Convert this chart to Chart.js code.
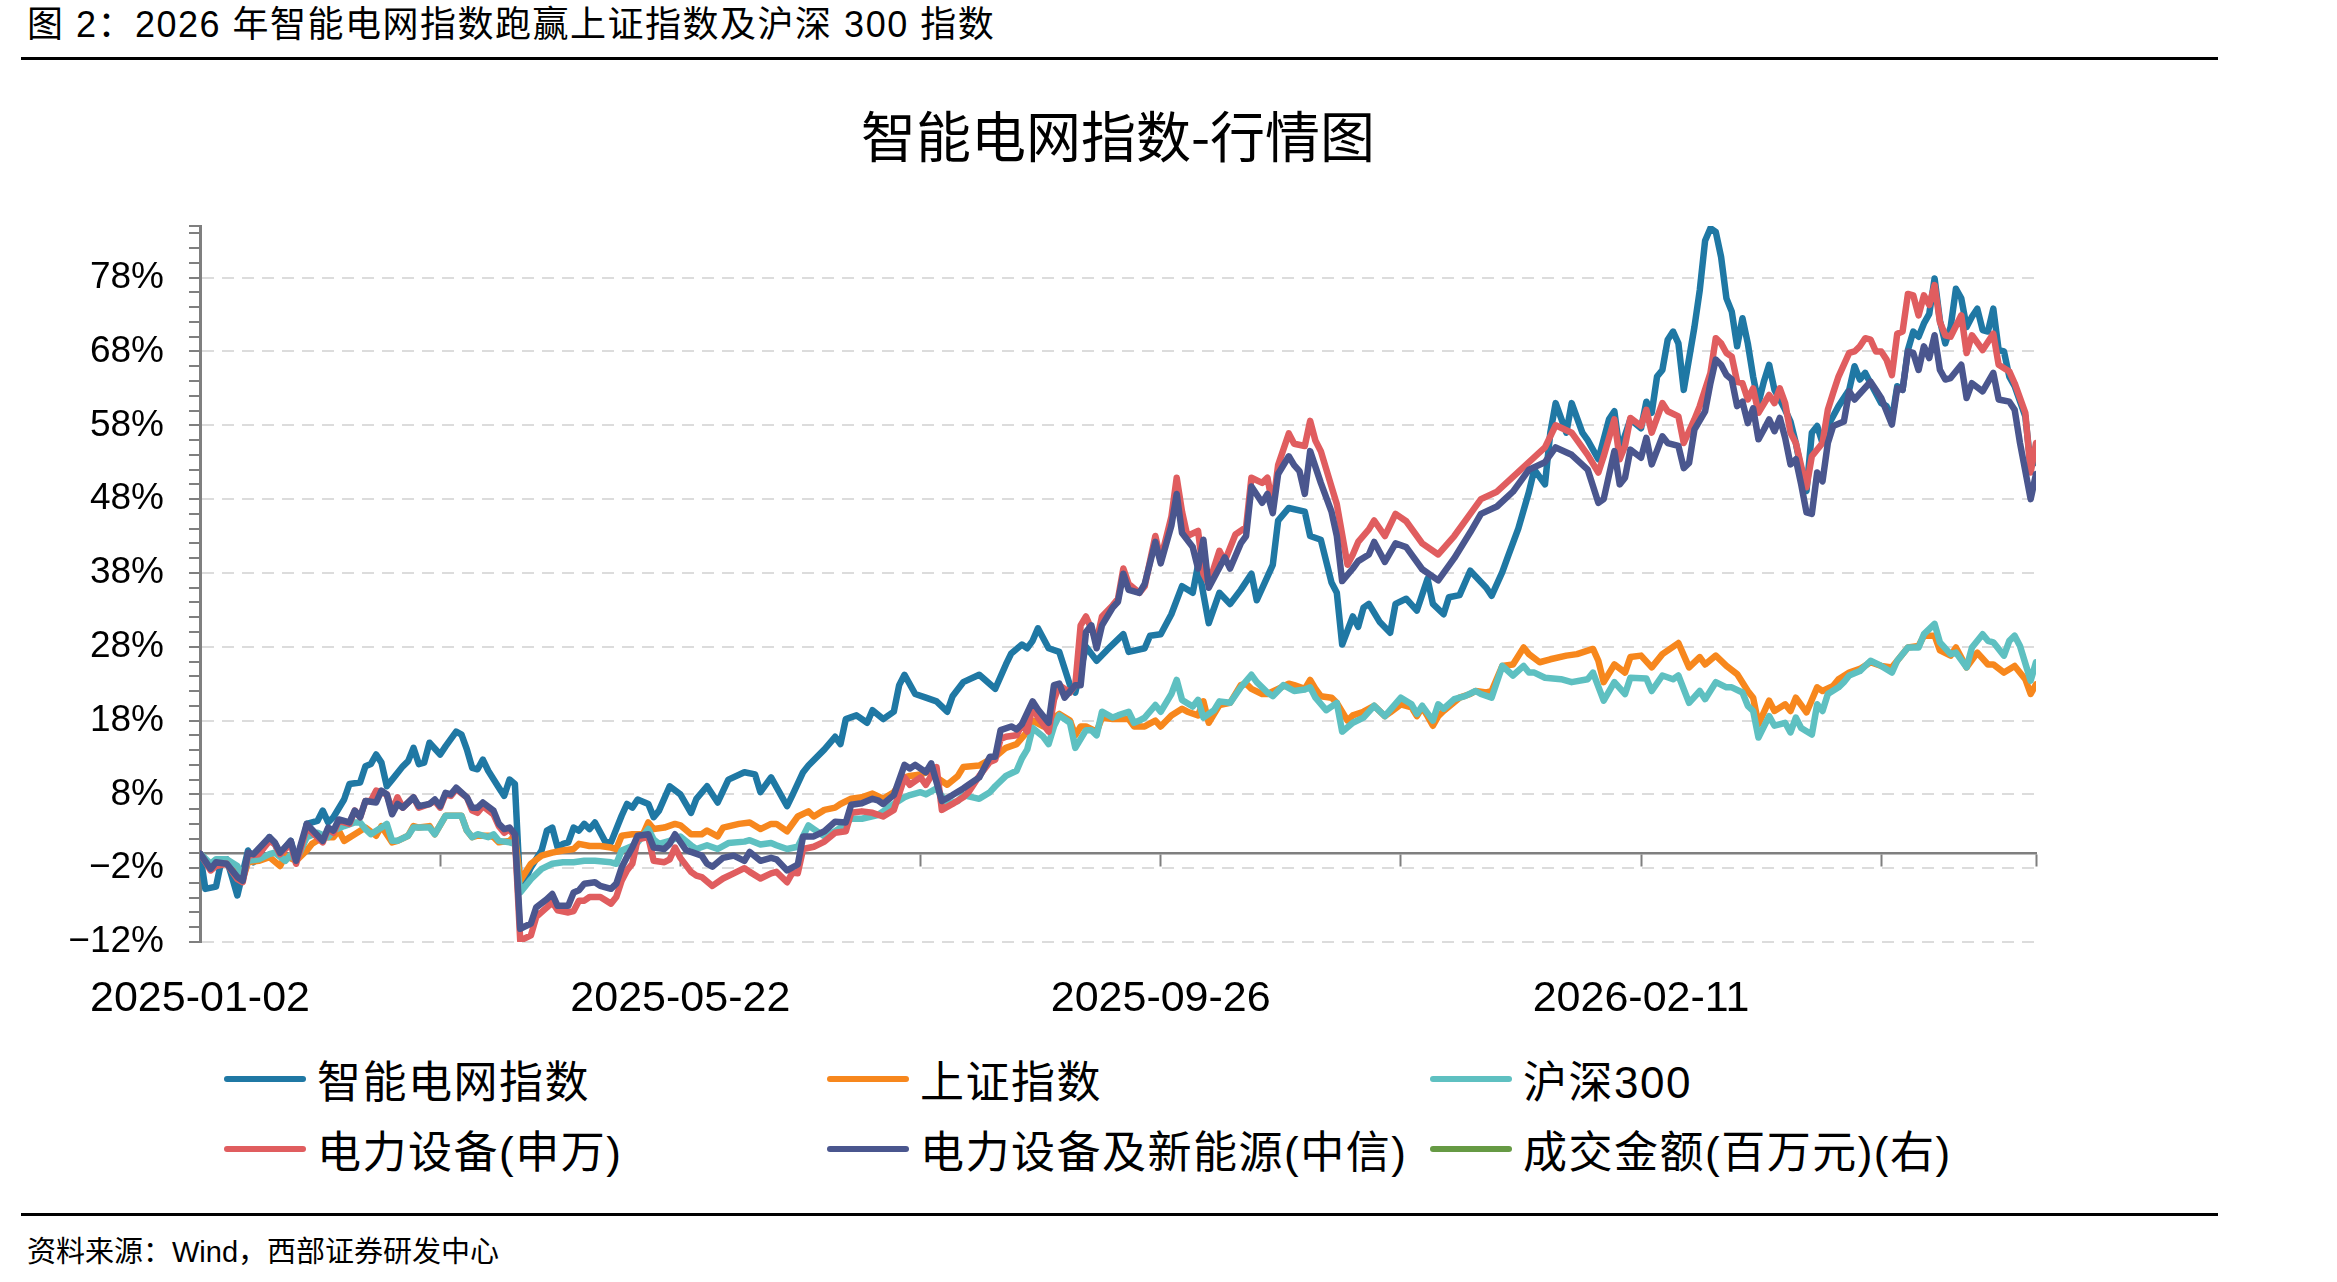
<!DOCTYPE html>
<html lang="zh-CN">
<head>
<meta charset="utf-8">
<title>智能电网指数-行情图</title>
<script src="https://cdn.jsdelivr.net/npm/chart.js@4.4.1/dist/chart.umd.min.js"></script>
<style>
  body { margin: 0; background: #fff; }
  .page { position: relative; width: 2337px; height: 1282px; overflow: hidden; color: #000;
          font-family: "Liberation Sans", "Noto Sans CJK SC", sans-serif; }
  .fig-title { position: absolute; left: 27px; top: 4px; font-size: 36px; line-height: 42px; letter-spacing: 1.5px; white-space: nowrap; }
  .rule { position: absolute; left: 21px; width: 2197px; height: 3px; background: #000; }
  .chart-box { position: absolute; left: 0; top: 0; width: 2337px; height: 1045px; }
  .legend { position: absolute; left: 224px; top: 1051px; display: grid; grid-template-columns: repeat(3, 603px); row-gap: 14px; }
  .legend-item { display: flex; align-items: center; height: 56px; font-size: 44px; letter-spacing: 1.5px; white-space: nowrap; }
  .legend-line { width: 82px; height: 6px; border-radius: 3px; margin-right: 11px; flex: none; }
  .source { position: absolute; left: 27px; top: 1234px; font-size: 29px; line-height: 36px; white-space: nowrap; }
</style>
</head>
<body>
<div class="page">
  <div class="fig-title">图 2：2026 年智能电网指数跑赢上证指数及沪深 300 指数</div>
  <div class="rule" style="top:57px"></div>
  <div class="chart-box"><canvas id="indexChart"></canvas></div>
  <div class="legend js-legend"></div>
  <div class="rule" style="top:1213px"></div>
  <div class="source">资料来源：Wind，西部证券研发中心</div>
</div>

<script>
// x axis: trading day number since 2025-01-02, labelled every 90 days
const dateLabels = ['2025-01-02', '2025-05-22', '2025-09-26', '2026-02-11'];

const seriesNames = ['智能电网指数', '上证指数', '沪深300', '电力设备(申万)', '电力设备及新能源(中信)', '成交金额(百万元)(右)'];
const seriesColors = ['#1f78a4', '#f7871d', '#5ec0c1', '#e05d5f', '#4a568e', '#669a44'];

// [trading day, cumulative change %]
const smartGrid = [[0,0],[1,-4.8],[3,-4.5],[4,-1],[5,-0.8],[6,-3.2],[7,-5.7],[9,0.4],[10,-1.2],[11,-0.3],[13,2.2],[14,1.3],[15,-0.1],[17,1.7],[18,-0.8],[19,-0.1],[20,4],[22,4.4],[23,5.8],[24,4.2],[25,4.9],[27,7.3],[28,9.4],[30,9.6],[31,11.8],[32,12.1],[33,13.4],[34,12.3],[35,9.1],[36,10],[38,11.8],[39,12.5],[40,14.3],[41,12.1],[42,12.3],[43,15],[45,13.4],[46,14.5],[48,16.5],[49,16.1],[50,14.1],[51,11.6],[52,11.4],[53,12.7],[54,11.2],[56,8.9],[57,7.8],[58,10],[59,9.4],[60,-5],[62,-1.9],[64,0.4],[65,3.1],[66,3.5],[67,0.8],[68,1.3],[69,1.5],[70,3.5],[71,3.1],[72,4],[73,3.3],[74,4.2],[76,1.5],[77,1.5],[79,5.1],[80,6.7],[81,6.2],[82,7.3],[84,6.7],[85,4.9],[86,5.8],[88,9.1],[90,8],[92,5.5],[93,7.4],[95,9.1],[97,6.9],[99,10],[102,11],[104,10.7],[105,8.3],[107,10.3],[110,6.4],[111,7.9],[113,11],[114,11.9],[117,14.1],[119,15.8],[120,14.8],[121,18.2],[123,18.7],[125,17.7],[126,19.4],[128,18.2],[130,19.2],[131,22.8],[132,24.2],[134,21.6],[136,21.1],[138,20.6],[140,19.2],[141,21.3],[143,23.2],[146,24.2],[149,22.3],[151,25.6],[152,27.1],[154,28.3],[155,27.8],[156,28.8],[157,30.5],[159,27.8],[161,27.3],[163,22.8],[164,21.8],[166,28],[168,26.1],[170,27.6],[173,29.7],[174,27.3],[177,27.8],[178,29.5],[180,29.7],[182,32.4],[184,36.2],[186,35.3],[187,39.1],[189,31.2],[191,35.3],[193,33.8],[195,35.7],[197,37.9],[198,34.3],[201,39.1],[202,45.1],[204,46.8],[207,46.3],[208,43],[210,42.5],[212,36.7],[213,35.3],[214,28.3],[216,32.1],[217,30.7],[218,33.3],[219,33.8],[221,31.4],[223,29.9],[224,33.8],[226,34.5],[228,32.9],[230,37.2],[231,33.8],[233,32.4],[234,34.7],[236,35],[238,38.3],[241,36],[242,34.9],[244,38.1],[245,40.1],[247,44],[249,49],[250,52],[252,50],[253,57],[254,61],[256,57],[257,61],[259,57],[260,56],[262,53.4],[264,58.8],[265,59.9],[266,54.5],[268,58.8],[270,57.6],[271,61.2],[272,59.7],[273,64.6],[274,65.5],[275,69.6],[276,70.7],[277,69.1],[278,62.8],[280,71.3],[281,76.3],[282,83],[283,84.7],[284,84.2],[285,80.8],[286,75.2],[287,73.4],[288,68.7],[289,72.5],[290,69.1],[291,64.6],[292,61],[293,63.9],[294,66.2],[295,62.8],[296,61.5],[297,60.1],[298,58.5],[299,55.6],[300,52],[301,49.1],[302,57],[303,57.9],[304,55.6],[305,57.9],[307,60.6],[309,62.8],[310,66],[311,64.2],[312,65.1],[313,63.7],[315,61],[316,60.6],[317,58.8],[318,63.3],[319,62.8],[320,68.2],[321,70.7],[322,70],[323,71.8],[324,73.1],[325,77.9],[326,72.2],[327,69.1],[328,71.3],[329,76.5],[330,75.2],[331,71.3],[332,72.7],[333,73.8],[334,70.9],[335,70.7],[336,73.8],[337,68.2],[338,68],[339,64.6],[340,63.3],[342,59.2],[343,52.5],[344,53.1]];

const shanghai = [[0,0],[2,-1.9],[3,-1.4],[5,-1.2],[7,-2.1],[8,-3.5],[9,-1.2],[11,-1],[13,-0.5],[15,-1.7],[16,-0.3],[18,-1],[20,0.4],[21,1.3],[23,2.2],[25,2.2],[26,3.1],[27,1.7],[29,2.6],[31,3.5],[33,2.4],[34,3.7],[36,1.5],[37,1.7],[39,2.4],[40,3.7],[41,3.5],[43,3.7],[44,2.6],[46,5.1],[47,5.1],[49,5.1],[50,3.1],[51,2.2],[52,2.4],[54,2.4],[55,2.2],[56,1.5],[58,1.7],[59,2.4],[60,-3.7],[62,-1.4],[64,-0.3],[66,0.1],[68,0.4],[70,0.6],[71,1.3],[73,1],[75,1],[77,0.8],[78,0.6],[79,2.4],[81,2.6],[83,2.6],[84,4.2],[85,3.3],[87,3.5],[89,4],[90,3.8],[92,2.6],[94,2.6],[95,3.1],[97,2.3],[98,3.5],[101,4],[103,4.2],[105,3.3],[107,4],[108,4],[110,3],[112,5],[114,5.7],[115,5],[117,5.9],[119,6.2],[120,6.7],[122,7.4],[124,7.6],[126,8.1],[128,7.4],[130,8.3],[132,10.3],[133,10.5],[135,10.7],[137,11.2],[138,10.3],[140,9.3],[142,10.5],[143,11.7],[146,11.9],[148,12.7],[149,13.1],[151,14.3],[153,14.8],[155,16.5],[156,18],[158,17.2],[160,18.4],[161,18.9],[163,18],[164,16],[165,17.2],[166,17.2],[168,16.5],[169,18.4],[171,18.2],[174,18.2],[175,17.2],[177,17.2],[179,18],[180,17.2],[182,18.7],[184,19.6],[185,19.2],[187,18.7],[188,20.6],[189,17.7],[191,20.1],[193,20.4],[195,22.8],[196,23],[197,22.3],[199,21.6],[200,21.6],[202,22.3],[204,23],[205,22.8],[207,22.3],[208,23.5],[209,22.3],[210,21.3],[212,21.1],[213,20.4],[215,18],[216,18.7],[218,19.2],[220,20],[222,18.6],[223,19.1],[225,20.2],[227,19.8],[228,18.6],[229,19.8],[230,18.6],[231,17.3],[232,18.6],[233,19.3],[236,21.1],[238,21.6],[239,22],[241,21.8],[242,22],[244,25.4],[246,25.6],[248,27.9],[249,27],[251,25.9],[253,26.3],[256,26.8],[258,27],[261,27.7],[262,26.1],[263,23.2],[265,25.6],[267,24.5],[268,26.6],[270,26.8],[272,25.2],[274,27],[277,28.5],[279,25.2],[281,26.6],[282,25.6],[284,26.8],[286,25.4],[288,24.3],[290,22],[291,21.1],[292,17.5],[294,20.7],[295,19.3],[297,20.2],[298,19.3],[299,21.1],[301,19.1],[303,22.5],[304,22],[306,22.7],[307,23.6],[309,24.5],[311,25],[313,25.9],[315,25.4],[317,25.2],[318,26.1],[320,27.9],[322,28.1],[323,29.5],[325,29.5],[326,27.5],[328,26.8],[329,27.9],[331,25.2],[333,27.2],[335,25.6],[336,25.6],[338,24.5],[340,25.4],[342,23.6],[343,21.6],[344,22.9]];

const hs300 = [[0,0],[2,-1.4],[3,-0.8],[5,-0.8],[7,-1.7],[8,-3],[9,-1],[11,-0.8],[13,-0.1],[14,0.1],[16,-1],[17,-0.2],[18,-1],[20,2.2],[22,2.8],[24,2.2],[25,3.1],[27,3.7],[29,4.2],[30,4.2],[31,3.3],[32,2.6],[34,3.5],[35,4],[36,1.7],[37,1.7],[39,2.4],[40,3.5],[41,3.5],[43,3.5],[44,2.6],[46,5.1],[47,5.1],[49,5.1],[50,3.1],[51,2.2],[52,2.6],[54,2.2],[55,2.6],[56,1.7],[58,1.5],[59,1.3],[60,-5.3],[62,-3.5],[64,-2.1],[66,-1.4],[68,-1.2],[70,-1.2],[72,-1],[74,-1],[77,-1.2],[78,-1.4],[79,0.4],[81,1],[82,1.5],[84,3.3],[85,1.9],[86,1.3],[88,1.7],[90,2.3],[92,1.1],[93,0.6],[95,1.1],[97,0.6],[99,1.4],[102,1.6],[103,1.8],[105,1.2],[107,1.4],[108,1.1],[110,0.6],[112,0.9],[114,3.8],[115,3.3],[117,2.3],[119,3],[120,3.5],[122,4.7],[124,4.7],[127,5.2],[128,5.7],[130,6.7],[132,7.6],[133,7.9],[135,8.3],[136,8],[138,8.8],[140,6.7],[142,7.1],[143,7.9],[146,7.4],[148,8.3],[149,9.1],[151,10.5],[153,11.2],[154,12.9],[155,14.1],[156,17],[158,15.8],[159,14.8],[160,17.2],[161,18.7],[163,17.7],[164,14.3],[166,16.7],[167,16.7],[168,16],[169,19.2],[171,18.4],[172,18.7],[174,19.2],[175,17.7],[176,18],[177,18.4],[179,20.1],[180,19.2],[182,21.6],[183,23.5],[184,20.8],[186,19.9],[187,20.8],[188,18.4],[190,19.4],[191,20.6],[193,20.4],[195,22.5],[197,24.2],[198,23.2],[200,21.8],[201,21.3],[203,22.8],[205,22],[207,22.2],[208,22.5],[209,21.1],[211,19.4],[213,20.4],[214,16.5],[216,17.7],[218,18.4],[220,20],[222,18.6],[225,21.1],[227,20.2],[228,18.9],[229,20],[231,18],[232,20.2],[233,19.6],[235,20.9],[237,21.3],[239,22],[240,21.6],[242,21.1],[244,25.4],[246,24.1],[248,25.4],[249,24.5],[250,24.5],[252,23.8],[255,23.6],[257,23.2],[260,23.6],[261,24.5],[263,20.7],[265,23.2],[267,21.6],[268,23.8],[271,23.7],[272,22],[274,24.1],[276,23.6],[277,24.1],[279,20.4],[281,22],[282,20.9],[284,23.2],[286,22.5],[287,22.5],[289,21.8],[290,20],[291,19.3],[292,15.7],[294,18.6],[295,17.3],[297,17.7],[298,16.4],[299,18.4],[300,17],[302,16.1],[303,20.2],[304,19.3],[305,21.6],[307,22.5],[308,23.2],[309,24.1],[311,24.7],[313,26.1],[315,25.4],[317,24.5],[318,26.1],[320,27.9],[322,27.9],[323,29.7],[325,31.1],[326,28.6],[328,27],[329,27.2],[331,25.2],[332,27.9],[334,29.7],[335,28.8],[336,28.6],[338,26.8],[339,28.8],[340,29.5],[341,28.1],[343,23.4],[344,25.9]];

const powerSW = [[0,0],[2,-2.3],[3,-1.7],[5,-1.4],[7,-3.5],[8,-3.9],[9,-0.3],[11,-0.1],[13,1.7],[14,1.3],[15,-0.1],[17,1.3],[18,-1.4],[20,3.5],[23,1.5],[24,3.3],[25,2.8],[26,4.4],[28,4],[29,5.8],[30,4.9],[31,7.1],[32,7.1],[33,8.5],[35,8],[36,5.8],[37,7.6],[38,6.2],[40,7.6],[41,6.2],[43,6.7],[44,7.1],[45,6.2],[46,8],[47,7.8],[48,8.7],[50,7.6],[51,5.8],[52,5.5],[53,6.4],[55,5.3],[56,3.7],[57,2.8],[58,3.3],[59,2.2],[60,-11.8],[62,-11.1],[63,-8.6],[65,-7.3],[66,-6.6],[67,-7.7],[69,-8],[70,-7.8],[71,-6.4],[72,-6.4],[73,-5.9],[75,-5.9],[77,-6.8],[78,-5.9],[79,-3.7],[80,-2.3],[81,-1.4],[82,1.9],[84,2.2],[85,-1],[87,-1.2],[88,-0.8],[89,0.8],[90,-0.6],[92,-2.5],[93,-3],[94,-3.2],[96,-4.4],[98,-3.4],[100,-2.7],[102,-2],[103,-2.5],[105,-3.4],[107,-2.7],[108,-2.5],[110,-3.9],[111,-2.6],[112,-2.7],[113,0.6],[115,0.9],[117,1.6],[119,2.8],[121,3],[122,5.5],[124,5.7],[126,5.5],[128,5],[130,5.9],[132,10.3],[133,9.3],[135,10.3],[136,9.3],[138,11.7],[139,5.9],[141,6.7],[143,7.6],[144,8.3],[146,10.5],[148,12.4],[149,12.7],[150,15.5],[151,15.8],[153,16],[154,17.5],[155,16.5],[156,20.1],[157,18.4],[159,16.5],[160,20.8],[161,22.8],[162,22.3],[163,21.8],[164,22.8],[165,30.9],[166,32.1],[168,28.8],[169,32.1],[171,33.6],[172,34.5],[173,38.6],[174,36.5],[176,35.3],[177,36.2],[179,43],[180,39.8],[182,45.6],[183,50.9],[184,46.3],[185,43],[187,43.7],[188,37.9],[189,36.5],[191,41],[192,39.6],[194,43.2],[196,44.2],[197,50.9],[199,50.2],[200,50.9],[201,47],[202,52.6],[204,56.9],[205,55.5],[207,55.2],[208,58.6],[209,55.9],[210,54.5],[212,49.7],[213,47.3],[215,39.1],[216,40.5],[217,42.2],[219,43.9],[220,45.1],[222,43],[224,46],[226,45],[229,42],[232,40.5],[235,43],[238,46],[240,48],[243,49],[246,51],[249,53],[252,55],[254,58],[257,57],[260,54],[262,51.6],[263,53.8],[265,58.8],[266,53.4],[267,55.2],[268,59],[270,57.9],[271,60.1],[272,57],[274,61],[275,59.9],[277,59.2],[278,55.6],[280,58.8],[281,60.6],[283,65.1],[284,69.8],[285,69.1],[286,67.8],[287,67.3],[288,63.9],[289,63.7],[290,61.5],[291,63],[292,59.7],[294,62.1],[295,61],[296,63],[297,61],[298,57],[299,55.6],[300,52.5],[301,49.6],[302,53.8],[304,55.6],[305,60.1],[306,62.4],[307,64.6],[309,67.8],[310,68],[311,68.7],[312,69.8],[313,69.6],[314,68],[315,68],[316,66.9],[317,64.8],[318,70.4],[319,70.7],[320,75.8],[321,75.6],[322,72.9],[323,75.6],[324,74.3],[325,77],[326,72],[327,70.2],[328,70],[330,72.9],[331,67.8],[332,70.2],[334,68.2],[336,70.4],[337,66.2],[339,65.3],[340,63.7],[342,59.7],[343,51.6],[344,55.6]];

const powerCITIC = [[0,0],[2,-2.1],[3,-1.2],[5,-1.4],[7,-3.2],[8,-3.7],[9,0.1],[10,-0.1],[13,2.2],[14,1.5],[15,0.1],[17,1.7],[18,-1],[20,4],[23,1.7],[24,3.5],[25,3.1],[26,4.6],[28,4.2],[29,5.8],[30,4.9],[31,7.1],[33,6.9],[34,8.5],[35,8],[36,5.3],[37,6.7],[38,6.2],[40,7.6],[41,6.4],[43,6.7],[44,7.3],[45,6.4],[46,8.2],[47,8],[48,8.9],[50,7.6],[51,6.2],[52,6.2],[53,6.9],[55,5.8],[56,4],[57,3.3],[58,3.5],[59,2.6],[60,-10.2],[62,-9.5],[63,-7.3],[65,-6.2],[66,-5.5],[67,-7.1],[69,-7.1],[70,-5.3],[71,-5],[72,-4.1],[74,-3.9],[75,-4.4],[77,-4.8],[78,-4.1],[79,-1.9],[80,-0.5],[81,0.8],[82,2.4],[84,2.6],[85,0.8],[87,0.6],[88,1.3],[89,2.6],[91,0.5],[92,0.2],[94,-0.3],[95,-1.4],[96,-1.8],[98,-0.6],[100,-0.3],[102,-1],[103,0.2],[105,-1],[107,-0.6],[108,-0.8],[110,-2.3],[112,-1.5],[113,2.3],[115,2.3],[117,3],[119,4.3],[121,4.2],[122,6.6],[124,6.8],[126,7.4],[127,7.2],[128,6.7],[130,7.9],[132,12],[133,11.5],[134,12],[136,11],[137,12.2],[139,7.1],[141,7.9],[143,8.8],[144,9.3],[146,10.3],[148,13.1],[149,13.1],[150,16.7],[152,17.2],[153,16.8],[154,17.5],[156,20.6],[157,19.5],[159,17.7],[160,22.8],[161,23],[162,21.1],[164,22.8],[165,22.8],[166,30],[167,30.9],[168,27.8],[169,30.9],[171,33.3],[172,34.1],[173,37.9],[174,35.7],[176,35.3],[177,36.5],[179,42.2],[180,39.3],[182,44.4],[183,48.7],[184,43.4],[186,41.5],[187,38.6],[188,42.5],[189,36],[192,40.1],[193,38.6],[195,42],[196,43],[197,49.7],[199,47.5],[200,48.7],[201,46.1],[202,51.4],[204,53.8],[205,52.6],[206,51.8],[207,48.7],[208,54.5],[210,50.2],[212,46.3],[213,43],[214,36.9],[216,38.6],[217,39.6],[219,40.5],[220,42.2],[222,39.5],[224,42],[226,41.5],[229,38.5],[232,37],[235,40],[238,43.5],[240,46],[243,47],[246,49],[249,52],[252,53],[254,55],[257,54],[260,52],[262,47.5],[263,48],[265,54.5],[266,50],[267,50.9],[268,54.7],[270,53.6],[271,56.3],[272,52.7],[274,56.5],[275,55.6],[277,55.2],[278,52.2],[279,52.9],[280,57.4],[282,59.9],[283,63.7],[284,66.9],[285,66.2],[286,64.8],[287,64.2],[288,60.6],[289,61.2],[290,58.3],[291,60.3],[292,56.1],[293,57.4],[294,58.8],[295,57.2],[296,59],[297,56.3],[298,52.7],[299,53.4],[300,50],[301,46.2],[302,46],[303,51.6],[304,50.4],[305,55.6],[306,57.9],[308,58.5],[309,62.6],[310,61.5],[313,63.9],[314,62.8],[315,61.7],[317,58.1],[318,63],[319,62.8],[320,68],[321,67.8],[322,65.5],[323,68.7],[324,67.1],[325,70.2],[326,65.5],[327,64.2],[328,64.4],[330,66.2],[331,61.7],[332,63.7],[334,62.6],[336,65.1],[337,61.5],[339,61.2],[340,60.1],[341,55.6],[343,48],[344,51.4]];

// 成交金额: listed in the legend, nothing plotted
const turnover = [];

const allSeries = [smartGrid, shanghai, hs300, powerSW, powerCITIC, turnover];

// narrow tick font when available, else plain Liberation Sans
function hasFont(name) {
  const c = document.createElement('canvas').getContext('2d');
  c.font = '40px monospace';
  const w0 = c.measureText('78%2025').width;
  c.font = '40px "' + name + '", monospace';
  return c.measureText('78%2025').width !== w0;
}
const yTickFont = hasFont('Liberation Sans Narrow')
  ? { family: '"Liberation Sans Narrow"', size: 43 }
  : { family: '"Liberation Sans", Arial', size: 37 };

function isMajor(v) {
  return (v + 12) % 10 === 0;
}

function renderIndexChart() {
  const ctx = document.getElementById('indexChart').getContext('2d');
  const datasets = allSeries.map((s, i) => ({
    label: seriesNames[i],
    data: s.map(p => ({ x: p[0], y: p[1] })),
    borderColor: seriesColors[i],
    backgroundColor: seriesColors[i],
    borderWidth: 6.5,
    pointRadius: 0,
    tension: 0,
    borderJoinStyle: 'round',
    borderCapStyle: 'round',
    xAxisID: 'x',
    yAxisID: 'y',
    order: allSeries.length - i   // later series on top, like the original
  }));

  return new Chart(ctx, {
    type: 'line',
    data: { datasets },
    options: {
      responsive: true,
      maintainAspectRatio: false,
      animation: false,
      events: [],
      layout: { padding: { left: 0, right: 301, top: 0, bottom: 0 } },
      plugins: {
        legend: { display: false },
        tooltip: { enabled: false },
        title: {
          display: true,
          fullSize: false,
          text: '智能电网指数-行情图',
          color: '#000',
          font: { family: '"Noto Sans CJK SC", sans-serif', size: 55, weight: 'normal' },
          padding: { top: 103, bottom: 57 }
        }
      },
      scales: {
        x: {
          type: 'linear',
          min: 0,
          max: 344,
          bounds: 'data',
          afterFit: s => { s.height = 103; },
          grid: { display: false, drawTicks: false },
          border: { display: false },
          ticks: {
            stepSize: 45,
            includeBounds: false,
            autoSkip: false,
            maxRotation: 0,
            padding: 31,
            color: '#000',
            font: { family: '"Liberation Sans", Arial', size: 43 },
            callback: v => (v % 90 === 0 ? dateLabels[v / 90] : '')
          }
        },
        // the 0% line with its tick marks
        x2: {
          type: 'linear',
          axis: 'x',
          position: { y: 0 },
          min: 0,
          max: 344,
          bounds: 'data',
          ticks: { display: false, stepSize: 45, includeBounds: false, autoSkip: false },
          grid: { drawOnChartArea: false, tickLength: 12, tickWidth: 2, tickColor: '#7f7f7f' },
          border: { color: '#7f7f7f', width: 2.5 }
        },
        y: {
          type: 'linear',
          min: -12,
          max: 85,
          bounds: 'data',
          afterFit: s => { s.width = 200; },
          ticks: {
            stepSize: 2,
            includeBounds: false,
            autoSkip: false,
            padding: 25,
            color: '#000',
            font: yTickFont,
            callback: v => (isMajor(v) ? (v < 0 ? '\u2212' + (-v) : v) + '%' : '')
          },
          grid: {
            color: c => (c.tick && isMajor(c.tick.value) ? '#dcdcdc' : 'rgba(0,0,0,0)'),
            lineWidth: 2,
            tickLength: 11,
            tickWidth: 2,
            tickColor: '#7f7f7f'
          },
          border: { color: '#7f7f7f', width: 3, dash: [12, 8] }
        }
      }
    }
  });
}

function renderLegend(chart) {
  let legendHTML = '';
  chart.data.datasets.forEach(ds => {
    legendHTML += `<div class="legend-item"><span class="legend-line" style="background:${ds.borderColor}"></span>${ds.label}</div>`;
  });
  document.querySelector('.js-legend').innerHTML = legendHTML;
}

document.addEventListener('DOMContentLoaded', () => {
  const chart = renderIndexChart();
  renderLegend(chart);
});
</script>
</body>
</html>
